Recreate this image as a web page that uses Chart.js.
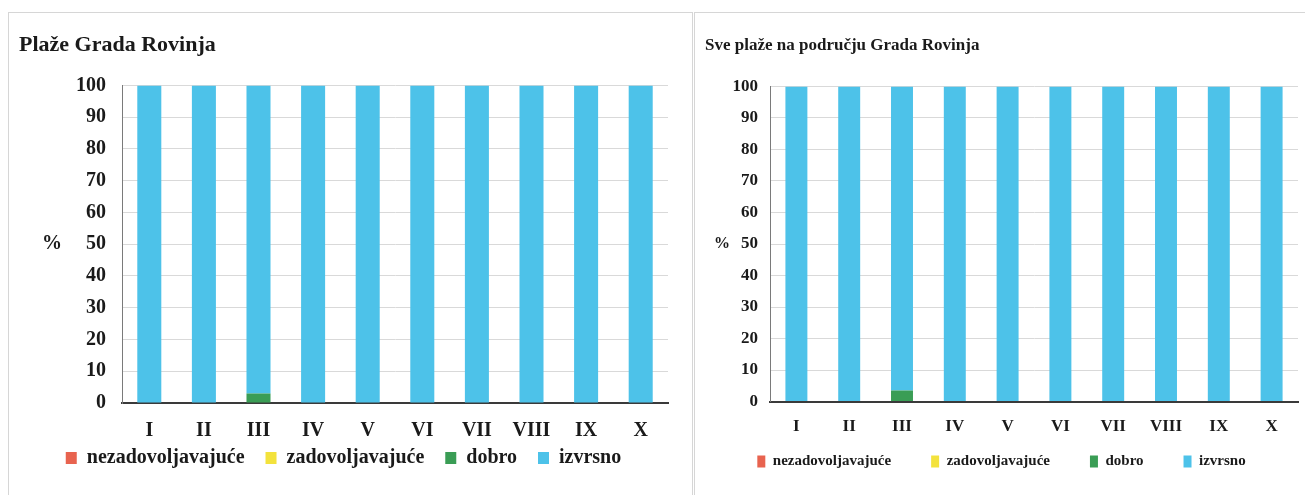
<!DOCTYPE html>
<html>
<head>
<meta charset="utf-8">
<script src="https://cdn.jsdelivr.net/npm/chart.js@4.4.1/dist/chart.umd.min.js"></script>
<style>
  html, body { margin: 0; padding: 0; background: #fff; width: 1305px; height: 495px; overflow: hidden; }
  .panel { position: absolute; top: 12px; border: 1px solid #d6d6d6; background: #fff; }
  #p1 { left: 8px; width: 683px; height: 495px; }
  #p2 { left: 694px; width: 620px; height: 495px; }
  canvas { position: absolute; left: 0; top: 0; }
</style>
</head>
<body>
<div class="panel" id="p1"><canvas id="left" width="683" height="482"></canvas></div>
<div class="panel" id="p2"><canvas id="right" width="610" height="482"></canvas></div>
<script>
// months (roman numerals)
const months = ['I', 'II', 'III', 'IV', 'V', 'VI', 'VII', 'VIII', 'IX', 'X'];
const seriesNames = ['nezadovoljavajuće', 'zadovoljavajuće', 'dobro', 'izvrsno'];
const yTicks = [0, 10, 20, 30, 40, 50, 60, 70, 80, 90, 100];

// Plaže Grada Rovinja
const leftNezad   = [0, 0, 0, 0, 0, 0, 0, 0, 0, 0];
const leftZad     = [0, 0, 0, 0, 0, 0, 0, 0, 0, 0];
const leftDobro   = [0, 0, 3, 0, 0, 0, 0, 0, 0, 0];
const leftIzvrsno = [100, 100, 97, 100, 100, 100, 100, 100, 100, 100];

// Sve plaže na području Grada Rovinja
const rightNezad   = [0, 0, 0, 0, 0, 0, 0, 0, 0, 0];
const rightZad     = [0, 0, 0, 0, 0, 0, 0, 0, 0, 0];
const rightDobro   = [0, 0, 3.5, 0, 0, 0, 0, 0, 0, 0];
const rightIzvrsno = [100, 100, 96.5, 100, 100, 100, 100, 100, 100, 100];

const COLORS = ['#e8634f', '#f3e23c', '#3a9d55', '#4dc2e9'];
const TEXT = '#1a1a1a';
const SERIF = '"Liberation Serif", "DejaVu Serif", serif';

// draws the horizontal "%" next to the y axis
const percentLabel = {
  id: 'percentLabel',
  afterDraw(chart, args, opts) {
    const { ctx, chartArea } = chart;
    ctx.save();
    ctx.font = opts.font;
    ctx.fillStyle = TEXT;
    ctx.textAlign = 'center';
    ctx.textBaseline = 'middle';
    ctx.fillText('%', opts.x, (chartArea.top + chartArea.bottom) / 2);
    ctx.restore();
  }
};

// legend sits closer to the axis labels than Chart.js would put it
const legendShift = {
  id: 'legendShift',
  afterLayout(chart, args, opts) {
    const lg = chart.legend;
    if (!lg) return;
    lg.top += opts.dy;
    lg.bottom += opts.dy;
  }
};

function makeChart(id, title, series, s) {
  const datasets = series.map((values, i) => ({
    label: seriesNames[i],
    data: values,
    backgroundColor: COLORS[i],
    borderWidth: 0,
    barPercentage: s.barPct,
    categoryPercentage: 1
  }));

  return new Chart(document.getElementById(id), {
    type: 'bar',
    data: { labels: months, datasets },
    plugins: [percentLabel, legendShift],
    options: {
      responsive: false,
      animation: false,
      layout: { padding: { left: 10, right: s.padRight, top: 0, bottom: s.padBottom } },
      plugins: {
        tooltip: { enabled: false },
        title: {
          display: true,
          text: title,
          align: 'start',
          color: TEXT,
          font: { family: SERIF, size: s.titleSize, weight: 'bold' },
          padding: { top: s.titleTop, bottom: s.titleBottom }
        },
        legend: {
          position: 'bottom',
          align: 'center',
          labels: {
            color: TEXT,
            font: { family: SERIF, size: s.legendSize, weight: 'bold' },
            boxWidth: s.boxW,
            boxHeight: s.boxH,
            padding: s.legendPad
          }
        },
        legendShift: { dy: s.legendDy },
        percentLabel: { x: s.pctX, font: 'bold ' + s.pctSize + 'px ' + SERIF }
      },
      scales: {
        x: {
          stacked: true,
          grid: { display: false, drawTicks: false },
          border: { display: true, color: '#3a3a3a', width: 2 },
          ticks: {
            color: TEXT,
            padding: s.xPad,
            font: { family: SERIF, size: s.tickSize, weight: 'bold' }
          }
        },
        y: {
          stacked: true,
          min: 0,
          max: 100,
          afterBuildTicks(scale) { scale.ticks = yTicks.map(v => ({ value: v })); },
          grid: {
            drawTicks: false,
            color: ctx => (ctx.tick && ctx.tick.value === 0 ? 'rgba(0,0,0,0)' : '#d9d9d9')
          },
          border: { display: true, color: '#7a7a7a', width: 1 },
          ticks: {
            color: TEXT,
            padding: s.yPad,
            font: { family: SERIF, size: s.tickSize, weight: 'bold' }
          },
          afterFit(scale) { scale.width = s.yWidth; }
        }
      }
    }
  });
}

makeChart('left', 'Plaže Grada Rovinja',
  [leftNezad, leftZad, leftDobro, leftIzvrsno], {
    barPct: 0.44, padRight: 24, padBottom: -15,
    titleSize: 22, titleTop: 19, titleBottom: 27,
    legendSize: 20, boxW: 11, boxH: 12, legendPad: 21, legendDy: -32,
    pctX: 43, pctSize: 20,
    tickSize: 20, xPad: 16, yPad: 16, yWidth: 103
  });

makeChart('right', 'Sve plaže na području Grada Rovinja',
  [rightNezad, rightZad, rightDobro, rightIzvrsno], {
    barPct: 0.416, padRight: 7, padBottom: -22,
    titleSize: 17, titleTop: 22, titleBottom: 31,
    legendSize: 15, boxW: 8, boxH: 12, legendPad: 40, legendDy: -38,
    pctX: 27, pctSize: 16,
    tickSize: 17, xPad: 15, yPad: 12, yWidth: 65
  });
</script>
</body>
</html>
